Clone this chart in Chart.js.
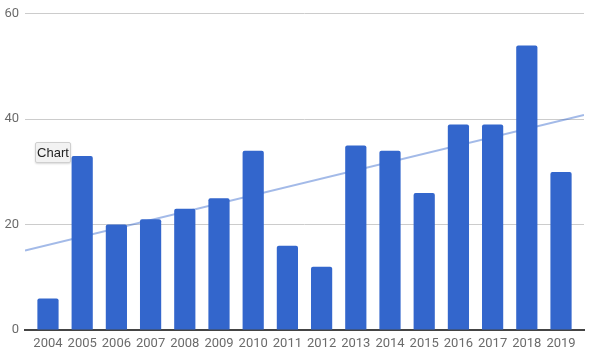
<!DOCTYPE html>
<html>
<head>
<meta charset="utf-8">
<script src="https://cdn.jsdelivr.net/npm/chart.js@4/dist/chart.umd.min.js"></script>
<style>
  html, body { margin: 0; padding: 0; background: #fff; }
  #wrap { position: relative; width: 592px; height: 356px; }
  #tag {
    position: absolute; left: 35px; top: 142px; width: 34px; height: 19px;
    background: #f2f2f2; border: 1px solid #cfcfcf; border-radius: 2px;
    box-shadow: 0 1px 2px rgba(0,0,0,0.15);
    font: 13px "Liberation Sans", Arial, sans-serif; color: #222;
    line-height: 19px; text-align: center;
  }
</style>
</head>
<body>
<div id="wrap">
  <canvas id="c" width="592" height="356"></canvas>
  <div id="tag">Chart</div>
</div>
<script>
const categories = ["2004","2005","2006","2007","2008","2009","2010","2011","2012","2013","2014","2015","2016","2017","2018","2019"];
const values = [6, 33, 20, 21, 23, 25, 34, 16, 12, 35, 34, 26, 39, 39, 54, 30];
const yTicks = [0, 20, 40, 60];

// least-squares trendline over the data
const n = values.length;
const mx = (n - 1) / 2;
const my = values.reduce((a, b) => a + b, 0) / n;
let sxy = 0, sxx = 0;
values.forEach((v, i) => { sxy += (i - mx) * (v - my); sxx += (i - mx) * (i - mx); });
const slope = sxy / sxx;
const icpt = my - slope * mx;
const xMin = -0.672, xMax = n - 1 + 0.672;
const trend = [{x: xMin, y: icpt + slope * xMin}, {x: xMax, y: icpt + slope * xMax}];

new Chart(document.getElementById('c'), {
  data: {
    datasets: [
      {
        type: 'bar',
        data: values.map((v, i) => ({x: i, y: v})),
        backgroundColor: '#3366cc',
        borderWidth: 0,
        borderRadius: 2,
        borderSkipped: 'bottom',
        barPercentage: 0.62,
        categoryPercentage: 1,
        order: 1
      },
      {
        type: 'line',
        data: trend,
        borderColor: 'rgba(51,102,204,0.45)',
        borderWidth: 2,
        pointRadius: 0,
        fill: false,
        order: 2
      }
    ]
  },
  options: {
    responsive: false,
    animation: false,
    events: [],
    layout: { padding: { top: 13, right: 8, left: 0, bottom: 0 } },
    plugins: { legend: { display: false }, tooltip: { enabled: false } },
    scales: {
      x: {
        type: 'linear',
        offset: false,
        min: xMin,
        max: xMax,
        grid: { display: false, drawTicks: false, offset: false },
        border: { display: true, color: '#444', width: 2 },
        afterBuildTicks: s => { s.ticks = categories.map((_, i) => ({value: i})); },
        afterFit: s => { s.height = 26; },
        ticks: {
          autoSkip: false,
          maxRotation: 0,
          padding: 6,
          color: '#6b6b6b',
          font: { family: 'Roboto', size: 13 },
          callback: v => categories[v]
        }
      },
      y: {
        min: 0,
        max: 60,
        afterBuildTicks: s => { s.ticks = yTicks.map(v => ({value: v})); },
        afterFit: s => { s.width = 25; },
        grid: { color: '#cccccc', drawTicks: false, lineWidth: 1 },
        border: { display: false },
        ticks: {
          padding: 6,
          color: '#6b6b6b',
          font: { family: 'Roboto', size: 13 }
        }
      }
    }
  }
});
</script>
</body>
</html>
